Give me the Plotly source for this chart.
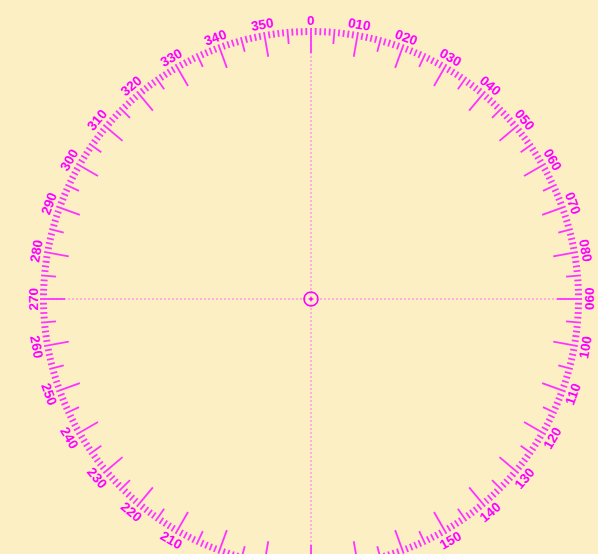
import numpy as np
import plotly.graph_objects as go

# ---- data ----
bearings_deg = list(range(0, 360, 1))            # one tick per degree
label_bearings = list(range(0, 360, 10))         # labelled bearings
label_texts = ["0"] + ["%03d" % b for b in range(10, 360, 10)]

# ---- style / geometry ----
R = 271
LEN_MAJOR, LEN_MID, LEN_MINOR = 25, 15, 7
LABEL_R = 278.5
MAG = "#ff00ff"
TICK = "#ff33ff"
BG = "#fdefc4"


def pol(r, b):
    t = np.radians(b)
    return r * np.sin(t), r * np.cos(t)


def seg_trace(bs, length, width):
    xs, ys = [], []
    for b in bs:
        x0, y0 = pol(R, b)
        x1, y1 = pol(R - length, b)
        xs += [x0, x1, None]
        ys += [y0, y1, None]
    return go.Scatter(x=xs, y=ys, mode="lines", line=dict(color=TICK, width=width),
                      hoverinfo="skip", showlegend=False)


fig = go.Figure()

# cross hair
fig.add_trace(go.Scatter(x=[-R, R], y=[0, 0], mode="lines",
                         line=dict(color="#ff70ee", width=1, dash="2px,2px"),
                         hoverinfo="skip", showlegend=False))
fig.add_trace(go.Scatter(x=[0, 0], y=[R, -R], mode="lines",
                         line=dict(color="#ff70ee", width=1, dash="2px,2px"),
                         hoverinfo="skip", showlegend=False))

minor = [b for b in bearings_deg if b % 5 != 0]
mid = [b for b in bearings_deg if b % 5 == 0 and b % 10 != 0]
major = [b for b in bearings_deg if b % 10 == 0]
fig.add_trace(seg_trace(minor, LEN_MINOR, 1.8))
fig.add_trace(seg_trace(mid, LEN_MID, 1.8))
fig.add_trace(seg_trace(major, LEN_MAJOR, 1.8))

# centre marker
theta = np.linspace(0, 2 * np.pi, 73)
fig.add_trace(go.Scatter(x=7 * np.cos(theta), y=7 * np.sin(theta), mode="lines",
                         line=dict(color=MAG, width=1.6), hoverinfo="skip", showlegend=False))
fig.add_trace(go.Scatter(x=[0], y=[0], mode="markers",
                         marker=dict(color=MAG, size=3.5), hoverinfo="skip", showlegend=False))

for b, txt in zip(label_bearings, label_texts):
    x, y = pol(LABEL_R, b)
    if b <= 90:
        ang = b
    elif b < 270:
        ang = b - 180
    else:
        ang = b - 360
    fig.add_annotation(x=x, y=y, text=txt, showarrow=False, textangle=ang,
                       xanchor="center", yanchor="middle",
                       font=dict(family="Liberation Sans, Arial, sans-serif", size=13.5,
                                 color=MAG, weight="bold"))

fig.update_layout(
    width=598, height=554,
    margin=dict(l=0, r=0, t=0, b=0),
    paper_bgcolor=BG, plot_bgcolor=BG,
    xaxis=dict(range=[-311, 287], visible=False, fixedrange=True),
    yaxis=dict(range=[-255, 299], visible=False, fixedrange=True),
    showlegend=False,
)

fig.write_html(
    "out.html",
    config={"displayModeBar": False},
    post_script="document.body.style.margin='0';document.body.style.background='%s';" % BG,
)
